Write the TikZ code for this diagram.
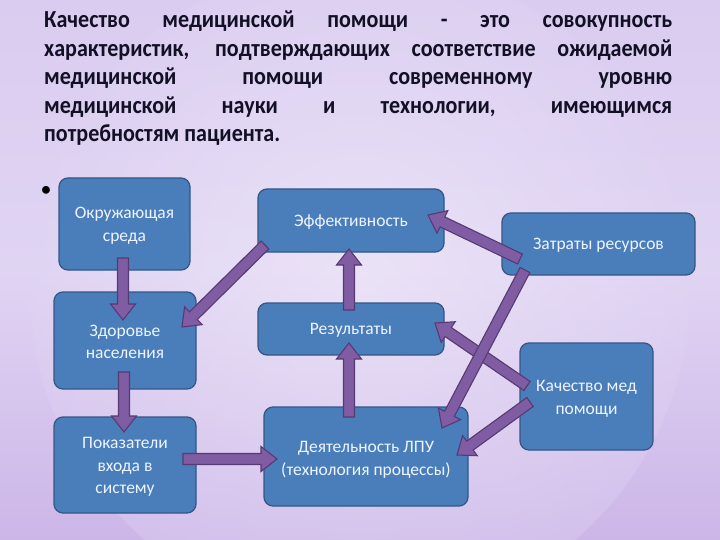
\documentclass[tikz,border=0pt]{standalone}
\usepackage{fontspec}
\setmainfont{Carlito}
\newfontfamily\titlefont[FakeStretch=0.9]{Carlito}
\usetikzlibrary{calc}
\definecolor{boxfill}{RGB}{74,126,187}
\definecolor{boxline}{RGB}{52,88,134}
\definecolor{arrfill}{RGB}{128,92,162}
\definecolor{arrline}{RGB}{86,58,116}
\definecolor{bgtop}{RGB}{218,204,240}
\definecolor{bgmid}{RGB}{224,212,243}
\definecolor{bgbot}{RGB}{204,182,232}
\definecolor{titlecol}{RGB}{18,16,36}
\definecolor{boxtextcol}{RGB}{238,244,255}
\tikzset{
  flowbox/.style={draw=boxline, line width=1.3pt, fill=boxfill, rounded corners=9pt, inner sep=0pt},
  boxtext/.style={text=boxtextcol, align=center, font=\fontsize{17.5}{22.5}\selectfont, inner sep=0pt},
  barrow/.style={draw=arrline, line width=1.1pt, fill=arrfill, line join=miter},
  titletext/.style={text=titlecol, font=\titlefont\fontsize{24.5}{28.5}\selectfont\bfseries, text width=628pt, align=justify, inner sep=0pt}
}
\newcommand\blockarrow[2]{%
  \coordinate (hb) at ($(#2)!16pt!(#1)$);
  \draw[barrow] ($(#1)!5.5pt!90:(#2)$) -- ($(hb)!5.5pt!-90:(#1)$) -- ($(hb)!12.5pt!-90:(#1)$) -- (#2) -- ($(hb)!12.5pt!90:(#1)$) -- ($(hb)!5.5pt!90:(#1)$) -- ($(#1)!5.5pt!-90:(#2)$) -- cycle;}
\begin{document}
\begin{tikzpicture}[x=1pt,y=-1pt]
\useasboundingbox (0,0) rectangle (720,540);
\shade[top color=bgtop, bottom color=bgbot, middle color=bgmid] (0,0) rectangle (720,540);
\begin{scope}[opacity=0.35]
\shade[inner color=white, outer color=bgmid] (360,290) circle (330);
\end{scope}

\node[titletext, anchor=north west] (title) at (44,11) {Качество медицинской помощи - это совокупность\linebreak
характеристик, подтверждающих соответствие ожидаемой\linebreak
медицинской помощи современному уровню\linebreak
медицинской науки и технологии, имеющимся\linebreak
потребностям пациента.};

\node[text=black, font=\fontsize{22}{22}\selectfont, inner sep=0pt] (bullet) at (46,191) {•};

% boxes
\node[flowbox, minimum width=131pt, minimum height=92pt] (env) at (124.5,224) {};
\node[flowbox, minimum width=142pt, minimum height=97pt] (health) at (125,340.5) {};
\node[flowbox, minimum width=142pt, minimum height=96pt] (inputs) at (125,465) {};
\node[flowbox, minimum width=186pt, minimum height=63pt] (eff) at (351,220.5) {};
\node[flowbox, minimum width=186pt, minimum height=52pt] (res) at (351,329) {};
\node[flowbox, minimum width=204pt, minimum height=99pt] (act) at (366,456.5) {};
\node[flowbox, minimum width=193pt, minimum height=62pt] (cost) at (598.5,244) {};
\node[flowbox, minimum width=133pt, minimum height=107pt] (qual) at (586.5,396.5) {};

% box texts
\node[boxtext] (envt) at (124.5,226) {Окружающая\\среда};
\node[boxtext] (healtht) at (125,342) {Здоровье\\населения};
\node[boxtext] (inputst) at (125,467) {Показатели\\входа в\\систему};
\node[boxtext] (efft) at (351,222) {Эффективность};
\node[boxtext] (rest) at (351,330) {Результаты};
\node[boxtext] (actt) at (366,460) {Деятельность ЛПУ\\(технология процессы)};
\node[boxtext] (costt) at (598.5,245) {Затраты ресурсов};
\node[boxtext] (qualt) at (586.5,399) {Качество мед\\помощи};

% arrow end points
\coordinate (a1s) at (123,258);   \coordinate (a1e) at (123,320);
\coordinate (a2s) at (124,372);   \coordinate (a2e) at (124,432);
\coordinate (a3s) at (265,245);   \coordinate (a3e) at (182,327);
\coordinate (a4s) at (349,310);   \coordinate (a4e) at (349,249);
\coordinate (a5s) at (349,417);   \coordinate (a5e) at (349,343);
\coordinate (a6s) at (183,459);   \coordinate (a6e) at (277,459);
\coordinate (a7s) at (520,259);   \coordinate (a7e) at (428,215);
\coordinate (a8s) at (525,270);   \coordinate (a8e) at (442,428);
\coordinate (a9s) at (527,386);   \coordinate (a9e) at (435,323);
\coordinate (a10s) at (530,402);  \coordinate (a10e) at (457,455);

\blockarrow{a1s}{a1e}
\blockarrow{a2s}{a2e}
\blockarrow{a3s}{a3e}
\blockarrow{a4s}{a4e}
\blockarrow{a5s}{a5e}
\blockarrow{a6s}{a6e}
\blockarrow{a7s}{a7e}
\blockarrow{a9s}{a9e}
\blockarrow{a8s}{a8e}
\blockarrow{a10s}{a10e}
\end{tikzpicture}
\end{document}
